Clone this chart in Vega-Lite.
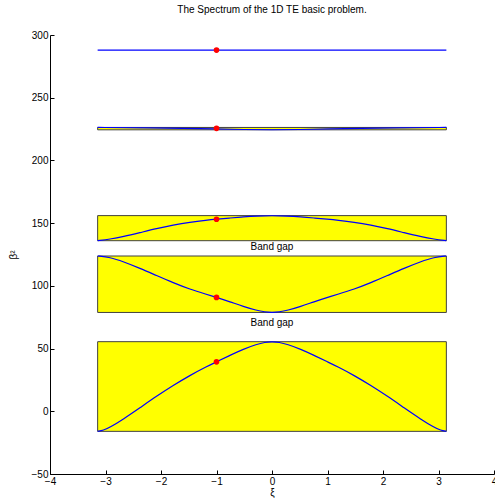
{
  "$schema": "https://vega.github.io/schema/vega-lite/v6.json",
  "width": 444,
  "height": 439,
  "autosize": "none",
  "padding": {"left": 50, "top": 35, "right": 1, "bottom": 30},
  "title": {"text": "The Spectrum of the 1D TE basic problem.", "fontSize": 10, "fontWeight": "normal", "font": "Liberation Sans", "color": "#000", "frame": "group", "anchor": "middle", "offset": 15},
  "datasets": {
    "bands": [
      {"band": 1, "x1": -3.1416, "x2": 3.1416, "lo": -16, "hi": 55.5},
      {"band": 2, "x1": -3.1416, "x2": 3.1416, "lo": 78.8, "hi": 123.8},
      {"band": 3, "x1": -3.1416, "x2": 3.1416, "lo": 136, "hi": 156},
      {"band": 4, "x1": -3.1416, "x2": 3.1416, "lo": 224.4, "hi": 226.3}
    ],
    "curves": [
      {"band": 1, "xi": -3.1416, "b2": -16}, {"band": 1, "xi": -3.04, "b2": -15.2}, {"band": 1, "xi": -2.92, "b2": -12.8}, {"band": 1, "xi": -2.68, "b2": -6.3}, {"band": 1, "xi": -2.38, "b2": 2.8}, {"band": 1, "xi": -2.08, "b2": 12}, {"band": 1, "xi": -1.78, "b2": 20.6}, {"band": 1, "xi": -1.48, "b2": 28.6}, {"band": 1, "xi": -1.18, "b2": 35.6}, {"band": 1, "xi": -1.0, "b2": 39.4}, {"band": 1, "xi": -0.757, "b2": 44.6}, {"band": 1, "xi": -0.517, "b2": 49.5}, {"band": 1, "xi": -0.276, "b2": 53.4}, {"band": 1, "xi": -0.13, "b2": 55.0}, {"band": 1, "xi": 0, "b2": 55.5},
      {"band": 1, "xi": 0.13, "b2": 55.0}, {"band": 1, "xi": 0.276, "b2": 53.4}, {"band": 1, "xi": 0.517, "b2": 49.5}, {"band": 1, "xi": 0.757, "b2": 44.6}, {"band": 1, "xi": 1.0, "b2": 39.4}, {"band": 1, "xi": 1.18, "b2": 35.6}, {"band": 1, "xi": 1.48, "b2": 28.6}, {"band": 1, "xi": 1.78, "b2": 20.6}, {"band": 1, "xi": 2.08, "b2": 12}, {"band": 1, "xi": 2.38, "b2": 2.8}, {"band": 1, "xi": 2.68, "b2": -6.3}, {"band": 1, "xi": 2.92, "b2": -12.8}, {"band": 1, "xi": 3.04, "b2": -15.2}, {"band": 1, "xi": 3.1416, "b2": -16},
      {"band": 2, "xi": -3.1416, "b2": 123.8}, {"band": 2, "xi": -2.92, "b2": 122.8}, {"band": 2, "xi": -2.68, "b2": 119.3}, {"band": 2, "xi": -2.38, "b2": 114}, {"band": 2, "xi": -2.08, "b2": 108.2}, {"band": 2, "xi": -1.78, "b2": 102.5}, {"band": 2, "xi": -1.48, "b2": 97.3}, {"band": 2, "xi": -1.18, "b2": 93.2}, {"band": 2, "xi": -1.0, "b2": 90.8}, {"band": 2, "xi": -0.757, "b2": 87.3}, {"band": 2, "xi": -0.517, "b2": 83.6}, {"band": 2, "xi": -0.276, "b2": 80.4}, {"band": 2, "xi": -0.13, "b2": 79.2}, {"band": 2, "xi": 0, "b2": 78.8},
      {"band": 2, "xi": 0.13, "b2": 79.2}, {"band": 2, "xi": 0.276, "b2": 80.4}, {"band": 2, "xi": 0.517, "b2": 83.6}, {"band": 2, "xi": 0.757, "b2": 87.3}, {"band": 2, "xi": 1.0, "b2": 90.8}, {"band": 2, "xi": 1.18, "b2": 93.2}, {"band": 2, "xi": 1.48, "b2": 97.3}, {"band": 2, "xi": 1.78, "b2": 102.5}, {"band": 2, "xi": 2.08, "b2": 108.2}, {"band": 2, "xi": 2.38, "b2": 114}, {"band": 2, "xi": 2.68, "b2": 119.3}, {"band": 2, "xi": 2.92, "b2": 122.8}, {"band": 2, "xi": 3.1416, "b2": 123.8},
      {"band": 3, "xi": -3.1416, "b2": 136}, {"band": 3, "xi": -2.92, "b2": 137.2}, {"band": 3, "xi": -2.68, "b2": 139.2}, {"band": 3, "xi": -2.38, "b2": 142.4}, {"band": 3, "xi": -2.08, "b2": 145.7}, {"band": 3, "xi": -1.78, "b2": 148.5}, {"band": 3, "xi": -1.48, "b2": 150.7}, {"band": 3, "xi": -1.18, "b2": 152.3}, {"band": 3, "xi": -1.0, "b2": 153.1}, {"band": 3, "xi": -0.757, "b2": 154.1}, {"band": 3, "xi": -0.517, "b2": 155}, {"band": 3, "xi": -0.276, "b2": 155.7}, {"band": 3, "xi": 0, "b2": 156},
      {"band": 3, "xi": 0.276, "b2": 155.7}, {"band": 3, "xi": 0.517, "b2": 155}, {"band": 3, "xi": 0.757, "b2": 154.1}, {"band": 3, "xi": 1.0, "b2": 153.1}, {"band": 3, "xi": 1.18, "b2": 152.3}, {"band": 3, "xi": 1.48, "b2": 150.7}, {"band": 3, "xi": 1.78, "b2": 148.5}, {"band": 3, "xi": 2.08, "b2": 145.7}, {"band": 3, "xi": 2.38, "b2": 142.4}, {"band": 3, "xi": 2.68, "b2": 139.2}, {"band": 3, "xi": 2.92, "b2": 137.2}, {"band": 3, "xi": 3.1416, "b2": 136},
      {"band": 4, "xi": -3.1416, "b2": 226.3}, {"band": 4, "xi": -2.36, "b2": 226.0}, {"band": 4, "xi": -1.57, "b2": 225.5}, {"band": 4, "xi": -1.0, "b2": 225.1}, {"band": 4, "xi": -0.5, "b2": 224.6}, {"band": 4, "xi": 0, "b2": 224.4}, {"band": 4, "xi": 0.5, "b2": 224.6}, {"band": 4, "xi": 1.0, "b2": 225.1}, {"band": 4, "xi": 1.57, "b2": 225.5}, {"band": 4, "xi": 2.36, "b2": 226.0}, {"band": 4, "xi": 3.1416, "b2": 226.3},
      {"band": 5, "xi": -3.1416, "b2": 288}, {"band": 5, "xi": 0, "b2": 288}, {"band": 5, "xi": 3.1416, "b2": 288}
    ],
    "dots": [
      {"xi": -1, "b2": 39.4}, {"xi": -1, "b2": 90.8}, {"xi": -1, "b2": 153.1}, {"xi": -1, "b2": 225.6}, {"xi": -1, "b2": 288}
    ],
    "labels": [
      {"xi": 0, "b2": 131, "text": "Band gap"}, {"xi": 0, "b2": 70.4, "text": "Band gap"}
    ]
  },
  "layer": [
    {
      "data": {"name": "bands"},
      "mark": {"type": "rect", "fill": "#ffff00", "stroke": "#404040", "strokeWidth": 1},
      "encoding": {
        "x": {"field": "x1", "type": "quantitative", "scale": {"domain": [-4, 4], "nice": false, "zero": false},
              "axis": {"values": [-4, -3, -2, -1, 0, 1, 2, 3, 4], "format": "d", "title": "ξ", "labelFlush": false, "labelPadding": 6, "titlePadding": 1}},
        "x2": {"field": "x2"},
        "y": {"field": "lo", "type": "quantitative", "scale": {"domain": [-50, 300], "nice": false, "zero": false},
              "axis": {"values": [-50, 0, 50, 100, 150, 200, 250, 300], "format": "d", "title": "β²", "labelFlush": false, "labelPadding": 6, "titlePadding": 13}},
        "y2": {"field": "hi"}
      }
    },
    {
      "data": {"name": "curves"},
      "mark": {"type": "line", "color": "#0000ff", "strokeWidth": 1.2, "interpolate": "basis"},
      "encoding": {
        "x": {"field": "xi", "type": "quantitative"},
        "y": {"field": "b2", "type": "quantitative"},
        "detail": {"field": "band"}
      }
    },
    {
      "data": {"name": "dots"},
      "mark": {"type": "circle", "color": "#ff0000", "opacity": 1, "size": 32},
      "encoding": {
        "x": {"field": "xi", "type": "quantitative"},
        "y": {"field": "b2", "type": "quantitative"}
      }
    },
    {
      "data": {"name": "labels"},
      "mark": {"type": "text", "font": "Liberation Sans", "fontSize": 10, "color": "#000", "align": "center", "baseline": "middle"},
      "encoding": {
        "x": {"field": "xi", "type": "quantitative"},
        "y": {"field": "b2", "type": "quantitative"},
        "text": {"field": "text"}
      }
    }
  ],
  "config": {
    "view": {"stroke": null},
    "axis": {
      "grid": false,
      "domainColor": "#000",
      "tickColor": "#000",
      "tickSize": -4,
      "labelColor": "#000",
      "labelFont": "Liberation Sans",
      "labelFontSize": 10,
      "titleFont": "Liberation Sans",
      "titleFontSize": 10,
      "titleFontWeight": "normal",
      "titleColor": "#000"
    }
  }
}
